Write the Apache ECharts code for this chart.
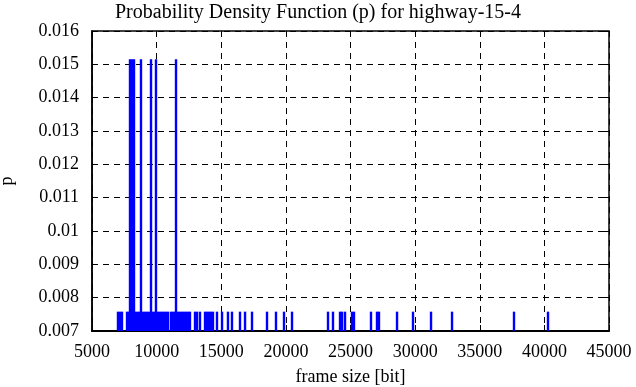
<!DOCTYPE html>
<html>
<head>
<meta charset="utf-8">
<script src="https://cdn.jsdelivr.net/npm/echarts@6/dist/echarts.min.js"></script>
<style>html,body{margin:0;padding:0;background:#fff;}#c{width:636px;height:387px;}</style>
</head>
<body>
<div id="c"></div>
<script>
const titleText = 'Probability Density Function (p) for highway-15-4';
const xName = 'frame size [bit]';
const yName = 'p';
const frameSize = [7010,7170,7320,7710,7860,7940,8095,8250,8400,8560,8710,8790,8950,9100,9255,9410,9565,9720,9875,9950,
  10105,10260,10415,10570,10725,10880,11110,11270,11420,11500,11655,11810,11965,12120,12275,12430,12580,
  12970,13125,13355,13745,13900,14050,14205,14360,14670,15060,15520,15830,16450,16840,17380,18540,19235,19855,20475,
  23260,23645,24190,24345,24575,25115,25270,26585,27050,27205,28600,29835,31230,32855,37650,40280];
const prob = [0.00758,0.00758,0.00758,0.00758,0.00758,0.01515,0.01515,0.01515,0.00758,0.00758,0.00758,0.01515,0.00758,0.00758,0.00758,0.00758,0.01515,0.00758,0.00758,0.01515,
  0.00758,0.00758,0.00758,0.00758,0.00758,0.00758,0.00758,0.00758,0.00758,0.01515,0.00758,0.00758,0.00758,0.00758,0.00758,0.00758,0.00758,
  0.00758,0.00758,0.00758,0.00758,0.00758,0.00758,0.00758,0.00758,0.00758,0.00758,0.00758,0.00758,0.00758,0.00758,0.00758,0.00758,0.00758,0.00758,0.00758,
  0.00758,0.00758,0.00758,0.00758,0.00758,0.00758,0.00758,0.00758,0.00758,0.00758,0.00758,0.00758,0.00758,0.00758,0.00758,0.00758];
const xMin = 5000, xMax = 45000, xStep = 5000;
const yMin = 0.007, yMax = 0.016, yStep = 0.001;

const data = frameSize.map((v, i) => [v, prob[i]]);
const font = 'Liberation Serif';
const gridLine = {show: true, lineStyle: {color: '#000', type: [6, 5], width: 1}};
const chart = echarts.init(document.getElementById('c'), null, {renderer: 'canvas'});
chart.setOption({
  animation: false,
  backgroundColor: '#fff',
  title: {text: titleText, left: 'center', top: -2,
    textStyle: {fontFamily: font, fontWeight: 'normal', fontSize: 20, color: '#000'}},
  grid: {left: 92, right: 27, top: 31, bottom: 56, show: true, borderColor: '#000', borderWidth: 1.5,
    containLabel: false, outerBoundsMode: 'none'},
  xAxis: [{
    type: 'value', min: xMin, max: xMax, interval: xStep,
    name: xName, nameLocation: 'middle', nameGap: 37,
    nameTextStyle: {fontFamily: font, fontSize: 18, color: '#000'},
    axisLine: {show: true, onZero: false, lineStyle: {color: '#000', width: 2}},
    axisTick: {show: true, inside: true, length: 6, lineStyle: {color: '#000'}},
    axisLabel: {fontFamily: font, fontSize: 18, color: '#000', margin: 12,
      formatter: v => String(v)},
    splitLine: gridLine
  }, {
    type: 'value', min: xMin, max: xMax, interval: xStep, position: 'top',
    axisLine: {show: false}, axisLabel: {show: false}, splitLine: {show: false},
    axisTick: {show: true, inside: true, length: 6, lineStyle: {color: '#000'}}
  }],
  yAxis: [{
    type: 'value', min: yMin, max: yMax, interval: yStep,
    name: yName, nameLocation: 'middle', nameGap: 76, nameRotate: 90,
    nameTextStyle: {fontFamily: font, fontSize: 18, color: '#000'},
    axisLine: {show: true, lineStyle: {color: '#000', width: 1.5}},
    axisTick: {show: true, inside: true, length: 6, lineStyle: {color: '#000'}},
    axisLabel: {fontFamily: font, fontSize: 18, color: '#000', margin: 13,
      formatter: v => String(parseFloat(v.toFixed(4)))},
    splitLine: gridLine
  }, {
    type: 'value', min: yMin, max: yMax, interval: yStep, position: 'right',
    axisLine: {show: false}, axisLabel: {show: false}, splitLine: {show: false},
    axisTick: {show: true, inside: true, length: 6, lineStyle: {color: '#000'}}
  }],
  series: [{
    type: 'custom', data: data, z: 5,
    renderItem: function (params, api) {
      const top = api.coord([api.value(0), api.value(1)]);
      const base = api.coord([api.value(0), yMin]);
      const w = 2.4;
      return {
        type: 'rect',
        shape: {x: top[0] - w / 2, y: top[1], width: w, height: base[1] - top[1]},
        style: {fill: '#0000ff'}
      };
    }
  }]
});
</script>
</body>
</html>
